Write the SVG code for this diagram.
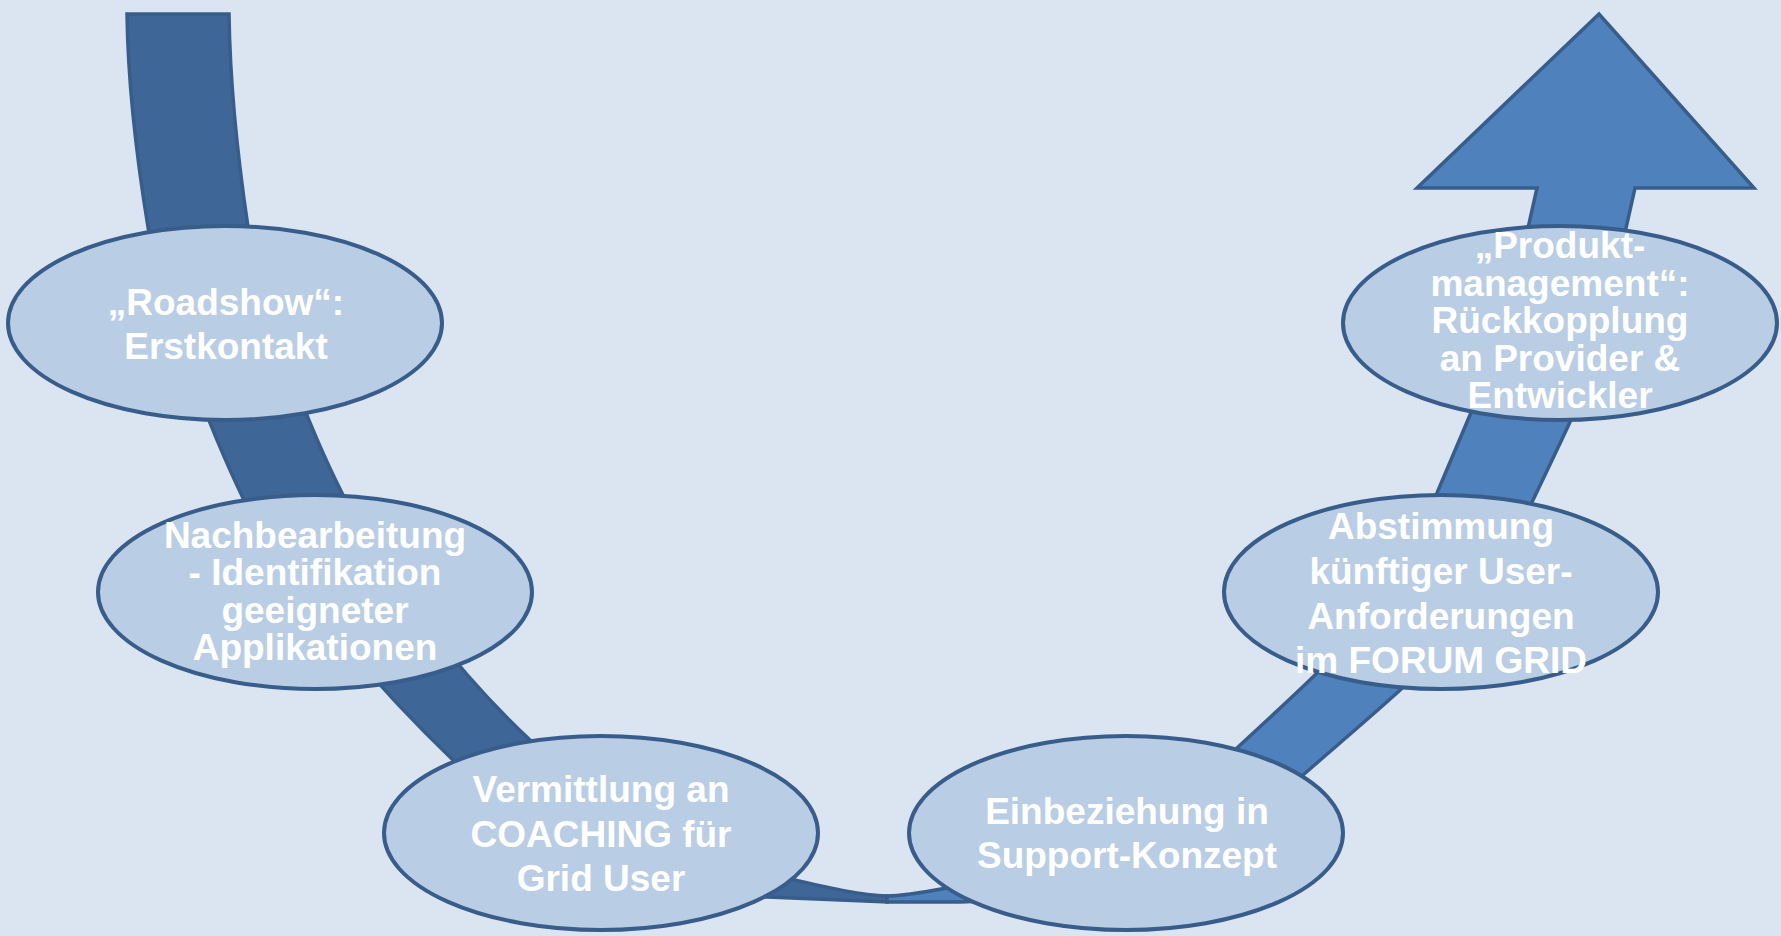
<svg xmlns="http://www.w3.org/2000/svg" width="1781" height="936" viewBox="0 0 1781 936">
<style>
.bg{fill:#DBE5F1}
.node ellipse{fill:#B9CDE5;stroke:#385D8A;stroke-width:4}
.node text{font-family:"Liberation Sans",Arial,sans-serif;font-weight:bold;font-size:37px;fill:#FFFFFF;text-anchor:middle}
.dark{fill:#3E6696;stroke:#385D8A;stroke-width:3.5;stroke-linejoin:miter}
.light{fill:#4F81BD;stroke:#385D8A;stroke-width:3.5;stroke-linejoin:miter}
</style>
<rect class="bg" x="0" y="0" width="1781" height="936"/>
<g id="connectors">
<path class="dark" d="M127,14 L229,14 C230,85 238,160 248,227 C260,307 315,440 342,493 C380,572 460,675 530,740 C600,810 700,860 795,880 C830,888 860,895 887,896 L887,902 L767,897 C650,890 530,835 453,760 C390,700 290,590 243,498 C215,440 161,307 148,227 C137,160 128,85 127,14 Z"/>
<path class="light" d="M887,902 L960,902 C1080,900 1230,838 1303,775 C1335,747 1367,720 1398,692 C1450,646 1510,548 1533,500 C1545,475 1558,448 1570,422 C1595,365 1620,280 1626,228 L1635,188 L1754,188 L1599,14 L1417,188 L1537,188 L1528,228 C1515,295 1490,365 1470,415 C1459,441 1448,467 1437,493 C1403,573 1366,627 1313,677 C1288,701 1262,725 1237,748 C1150,829 1010,877 947,888 C920,893 900,896 887,896 Z"/>
</g>
<g id="n1" class="node">
<ellipse cx="225" cy="323" rx="217" ry="97"/>
<text x="226" y="315">„Roadshow“:</text>
<text x="226" y="359">Erstkontakt</text>
</g>
<g id="n2" class="node">
<ellipse cx="315" cy="592" rx="217" ry="97"/>
<text x="315" y="548">Nachbearbeitung</text>
<text x="315" y="585">- Identifikation</text>
<text x="315" y="623">geeigneter</text>
<text x="315" y="660">Applikationen</text>
</g>
<g id="n3" class="node">
<ellipse cx="601" cy="833" rx="217" ry="97"/>
<text x="601" y="802">Vermittlung an</text>
<text x="601" y="847">COACHING für</text>
<text x="601" y="891">Grid User</text>
</g>
<g id="n4" class="node">
<ellipse cx="1126" cy="833" rx="217" ry="97"/>
<text x="1127" y="824">Einbeziehung in</text>
<text x="1127" y="868">Support-Konzept</text>
</g>
<g id="n5" class="node">
<ellipse cx="1441" cy="592" rx="217" ry="97"/>
<text x="1441" y="539">Abstimmung</text>
<text x="1441" y="584">künftiger User-</text>
<text x="1441" y="629">Anforderungen</text>
<text x="1441" y="673">im FORUM GRID</text>
</g>
<g id="n6" class="node">
<ellipse cx="1560" cy="323" rx="217" ry="97"/>
<text x="1560" y="258">„Produkt-</text>
<text x="1560" y="296">management“:</text>
<text x="1560" y="333">Rückkopplung</text>
<text x="1560" y="371">an Provider &amp;</text>
<text x="1560" y="408">Entwickler</text>
</g>
</svg>
